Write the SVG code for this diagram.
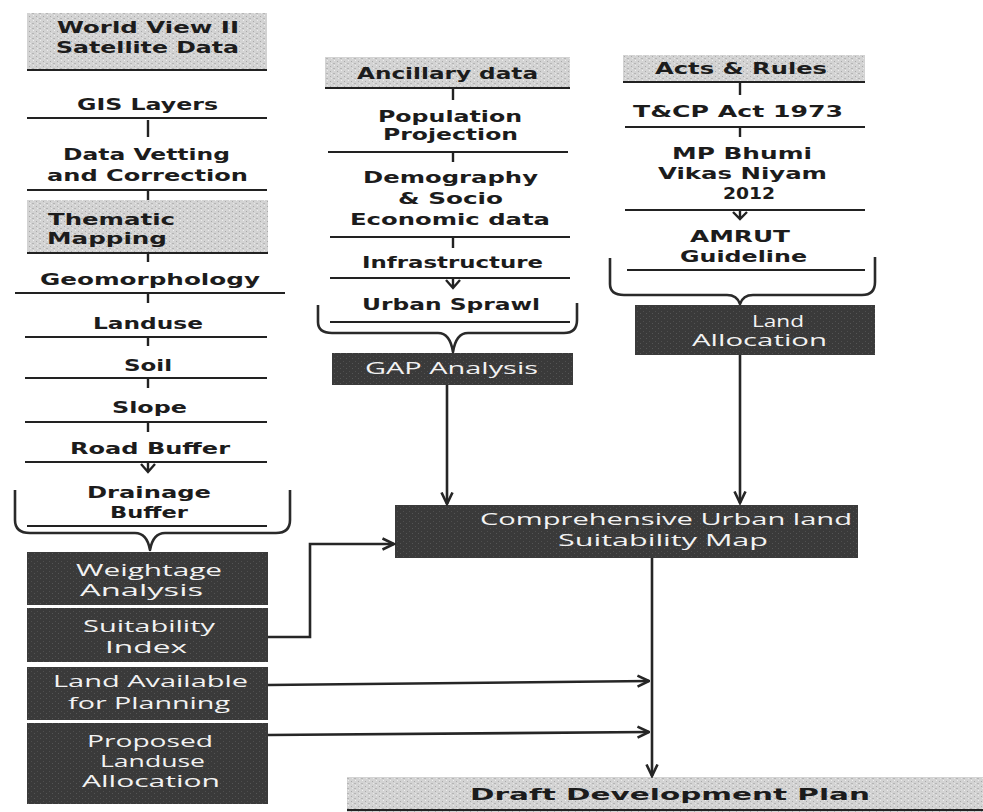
<svg xmlns="http://www.w3.org/2000/svg" width="983" height="812" viewBox="0 0 983 812">
<defs>
<pattern id="grainL" width="7" height="5" patternUnits="userSpaceOnUse">
<rect width="7" height="5" fill="#d3d3d3"/>
<rect x="1" y="1" width="1" height="1" fill="#a9a9a9"/>
<rect x="4" y="3" width="2" height="1" fill="#b5b5b5"/>
<rect x="5" y="0" width="1" height="1" fill="#eeeeee"/>
<rect x="2" y="3" width="1" height="1" fill="#e8e8e8"/>
</pattern>
<pattern id="grainD" width="6" height="5" patternUnits="userSpaceOnUse">
<rect width="6" height="5" fill="#3a3a3a"/>
<rect x="1" y="1" width="1" height="1" fill="#4f4f4f"/>
<rect x="4" y="3" width="1" height="1" fill="#555555"/>
</pattern>
<marker id="arr" viewBox="0 0 14 14" refX="12.5" refY="7" markerWidth="14" markerHeight="14" markerUnits="userSpaceOnUse" orient="auto">
<path d="M1,1.5 L12.5,7 L1,12.5" fill="none" stroke="#262626" stroke-width="2.6"/>
</marker>
<style>
.lt{fill:url(#grainL)}
.dk{fill:url(#grainD)}
.b{font-family:"DejaVu Sans","Liberation Sans",sans-serif;font-weight:bold;font-size:16px;fill:#1c1c1c}
.w{font-family:"Open Sans","DejaVu Sans",sans-serif;font-size:16px;fill:#f2f2f2}
.sep{stroke:#222;stroke-width:2;fill:none}
.edge{stroke:#262626;stroke-width:2.6;fill:none}
.tick{stroke:#222;stroke-width:2.4;fill:none}
.brace{stroke:#2a2a2a;stroke-width:2.6;fill:none;stroke-linejoin:round}
</style>
</defs>
<rect width="983" height="812" fill="#ffffff"/>

<!-- Left column -->
<g id="worldview">
<rect class="lt" x="27" y="13" width="240" height="57"/>
<line class="sep" x1="27" y1="70" x2="267" y2="70"/>
<text class="b" x="57" y="33" textLength="182" lengthAdjust="spacingAndGlyphs">World View II</text>
<text class="b" x="56" y="53" textLength="183" lengthAdjust="spacingAndGlyphs">Satellite Data</text>
</g>
<g id="gis">
<text class="b" x="77" y="110" textLength="141" lengthAdjust="spacingAndGlyphs">GIS Layers</text>
<line class="sep" x1="27" y1="118" x2="267" y2="118"/>
</g>
<g id="vetting">
<text class="b" x="63" y="160" textLength="167" lengthAdjust="spacingAndGlyphs">Data Vetting</text>
<text class="b" x="47" y="181" textLength="201" lengthAdjust="spacingAndGlyphs">and Correction</text>
<line class="sep" x1="27" y1="190" x2="267" y2="190"/>
</g>
<g id="thematic">
<rect class="lt" x="27" y="200" width="241" height="53"/>
<line class="sep" x1="27" y1="253" x2="268" y2="253"/>
<text class="b" x="48" y="225" textLength="127" lengthAdjust="spacingAndGlyphs">Thematic</text>
<text class="b" x="47" y="244" textLength="120" lengthAdjust="spacingAndGlyphs">Mapping</text>
</g>
<g id="geomorphology">
<text class="b" x="40" y="285" textLength="220" lengthAdjust="spacingAndGlyphs">Geomorphology</text>
<line class="sep" x1="15" y1="293" x2="285" y2="293"/>
</g>
<g id="landuse">
<text class="b" x="93" y="329" textLength="110" lengthAdjust="spacingAndGlyphs">Landuse</text>
<line class="sep" x1="25" y1="337" x2="267" y2="337"/>
</g>
<g id="soil">
<text class="b" x="124" y="371" textLength="48" lengthAdjust="spacingAndGlyphs">Soil</text>
<line class="sep" x1="25" y1="378" x2="267" y2="378"/>
</g>
<g id="slope">
<text class="b" x="112" y="413" textLength="75" lengthAdjust="spacingAndGlyphs">Slope</text>
<line class="sep" x1="25" y1="422" x2="267" y2="422"/>
</g>
<g id="roadbuffer">
<text class="b" x="70" y="454" textLength="160" lengthAdjust="spacingAndGlyphs">Road Buffer</text>
<line class="sep" x1="25" y1="462" x2="267" y2="462"/>
</g>
<g id="drainagebuffer">
<text class="b" x="87" y="498" textLength="124" lengthAdjust="spacingAndGlyphs">Drainage</text>
<text class="b" x="110" y="518" textLength="78" lengthAdjust="spacingAndGlyphs">Buffer</text>
<line class="sep" x1="27" y1="526" x2="267" y2="526"/>
</g>
<g id="weightage">
<rect class="dk" x="27" y="552" width="241" height="53"/>
<text class="w" x="76" y="576" textLength="146" lengthAdjust="spacingAndGlyphs">Weightage</text>
<text class="w" x="80" y="596" textLength="123" lengthAdjust="spacingAndGlyphs">Analysis</text>
</g>
<g id="suitability">
<rect class="dk" x="27" y="608" width="241" height="54"/>
<text class="w" x="83" y="632" textLength="132" lengthAdjust="spacingAndGlyphs">Suitability</text>
<text class="w" x="105" y="653" textLength="82" lengthAdjust="spacingAndGlyphs">Index</text>
</g>
<g id="landavailable">
<rect class="dk" x="27" y="667" width="241" height="53"/>
<text class="w" x="53" y="687" textLength="195" lengthAdjust="spacingAndGlyphs">Land Available</text>
<text class="w" x="68" y="709" textLength="162" lengthAdjust="spacingAndGlyphs">for Planning</text>
</g>
<g id="proposed">
<rect class="dk" x="27" y="723" width="241" height="81"/>
<text class="w" x="87" y="747" textLength="126" lengthAdjust="spacingAndGlyphs">Proposed</text>
<text class="w" x="100" y="767" textLength="105" lengthAdjust="spacingAndGlyphs">Landuse</text>
<text class="w" x="82" y="787" textLength="138" lengthAdjust="spacingAndGlyphs">Allocation</text>
</g>

<!-- Middle column -->
<g id="ancillary">
<rect class="lt" x="325" y="57" width="245" height="31"/>
<line class="sep" x1="325" y1="88" x2="570" y2="88"/>
<text class="b" x="357" y="79" textLength="181" lengthAdjust="spacingAndGlyphs">Ancillary data</text>
</g>
<g id="population">
<text class="b" x="378" y="122" textLength="144" lengthAdjust="spacingAndGlyphs">Population</text>
<text class="b" x="383" y="140" textLength="135" lengthAdjust="spacingAndGlyphs">Projection</text>
<line class="sep" x1="328" y1="152" x2="568" y2="152"/>
</g>
<g id="demography">
<text class="b" x="363" y="183" textLength="175" lengthAdjust="spacingAndGlyphs">Demography</text>
<text class="b" x="398" y="204" textLength="105" lengthAdjust="spacingAndGlyphs">&amp; Socio</text>
<text class="b" x="350" y="225" textLength="200" lengthAdjust="spacingAndGlyphs">Economic data</text>
<line class="sep" x1="330" y1="237" x2="570" y2="237"/>
</g>
<g id="infrastructure">
<text class="b" x="362" y="268" textLength="181" lengthAdjust="spacingAndGlyphs">Infrastructure</text>
<line class="sep" x1="330" y1="278" x2="570" y2="278"/>
</g>
<g id="urbansprawl">
<text class="b" x="362" y="310" textLength="178" lengthAdjust="spacingAndGlyphs">Urban Sprawl</text>
<line class="sep" x1="330" y1="322" x2="570" y2="322"/>
</g>
<g id="gap">
<rect class="dk" x="332" y="353" width="241" height="32"/>
<text class="w" x="365" y="374" textLength="173" lengthAdjust="spacingAndGlyphs">GAP Analysis</text>
</g>

<!-- Right column -->
<g id="acts">
<rect class="lt" x="623" y="55" width="242" height="27"/>
<line class="sep" x1="623" y1="82" x2="865" y2="82"/>
<text class="b" x="655" y="74" textLength="172" lengthAdjust="spacingAndGlyphs">Acts &amp; Rules</text>
</g>
<g id="tcp">
<text class="b" x="633" y="117" textLength="210" lengthAdjust="spacingAndGlyphs">T&amp;CP Act 1973</text>
<line class="sep" x1="625" y1="127" x2="865" y2="127"/>
</g>
<g id="mpbhumi">
<text class="b" x="672" y="159" textLength="140" lengthAdjust="spacingAndGlyphs">MP Bhumi</text>
<text class="b" x="658" y="179" textLength="169" lengthAdjust="spacingAndGlyphs">Vikas Niyam</text>
<text class="b" x="723" y="199" textLength="52" lengthAdjust="spacingAndGlyphs">2012</text>
<line class="sep" x1="625" y1="210" x2="865" y2="210"/>
</g>
<g id="amrut">
<text class="b" x="690" y="242" textLength="100" lengthAdjust="spacingAndGlyphs">AMRUT</text>
<text class="b" x="680" y="262" textLength="127" lengthAdjust="spacingAndGlyphs">Guideline</text>
<line class="sep" x1="627" y1="270" x2="865" y2="270"/>
</g>
<g id="landallocation">
<rect class="dk" x="635" y="305" width="240" height="50"/>
<text class="w" x="752" y="327" textLength="52" lengthAdjust="spacingAndGlyphs">Land</text>
<text class="w" x="692" y="346" textLength="135" lengthAdjust="spacingAndGlyphs">Allocation</text>
</g>

<!-- Centre -->
<g id="comprehensive">
<rect class="dk" x="395" y="505" width="463" height="53"/>
<text class="w" x="480" y="525" textLength="372" lengthAdjust="spacingAndGlyphs">Comprehensive Urban land</text>
<text class="w" x="558" y="546" textLength="210" lengthAdjust="spacingAndGlyphs">Suitability Map</text>
</g>
<g id="draft">
<rect class="lt" x="347" y="777" width="636" height="35"/>
<line class="sep" x1="347" y1="810" x2="983" y2="810"/>
<text class="b" x="470" y="800" font-size="18" textLength="400" lengthAdjust="spacingAndGlyphs">Draft Development Plan</text>
</g>

<!-- Connectors -->
<g id="connectors">
<path class="tick" d="M148,120 V137 M148,191 V200 M148,254 V262 M148,294 V303 M148,338 V346 M148,379 V388 M148,423 V432"/>
<path class="tick" d="M148,463 V472 M141,464 L148,472 L155,464"/>
<path class="tick" d="M453,89 V100 M453,153 V162 M453,238 V248"/>
<path class="tick" d="M453,279 V288 M446,280 L453,288 L460,280"/>
<path class="tick" d="M740,83 V95 M740,128 V137"/>
<path class="tick" d="M740,211 V219 M733,212 L740,219 L747,212"/>
<path class="brace" d="M15,490 V520 Q15,533 30,533 H135 Q147,533 150,550 Q153,533 165,533 H276 Q290,533 290,520 V490"/>
<path class="brace" d="M318,305 V322 Q318,333 332,333 H438 Q450,333 453,352 Q456,333 468,333 H564 Q577,333 577,320 V303"/>
<path class="brace" d="M610,258 V284 Q610,295 624,295 H727 Q737,295 740,304 Q743,295 753,295 H862 Q875,295 875,282 V257"/>
<path class="edge" d="M447,385 V504" marker-end="url(#arr)"/>
<path class="edge" d="M740,355 V503" marker-end="url(#arr)"/>
<path class="edge" d="M268,637 H310 V544 H394" marker-end="url(#arr)"/>
<path class="edge" d="M268,685 L649,681" marker-end="url(#arr)"/>
<path class="edge" d="M268,735 L649,732" marker-end="url(#arr)"/>
<path class="edge" d="M652,558 V776" marker-end="url(#arr)"/>
</g>
</svg>
